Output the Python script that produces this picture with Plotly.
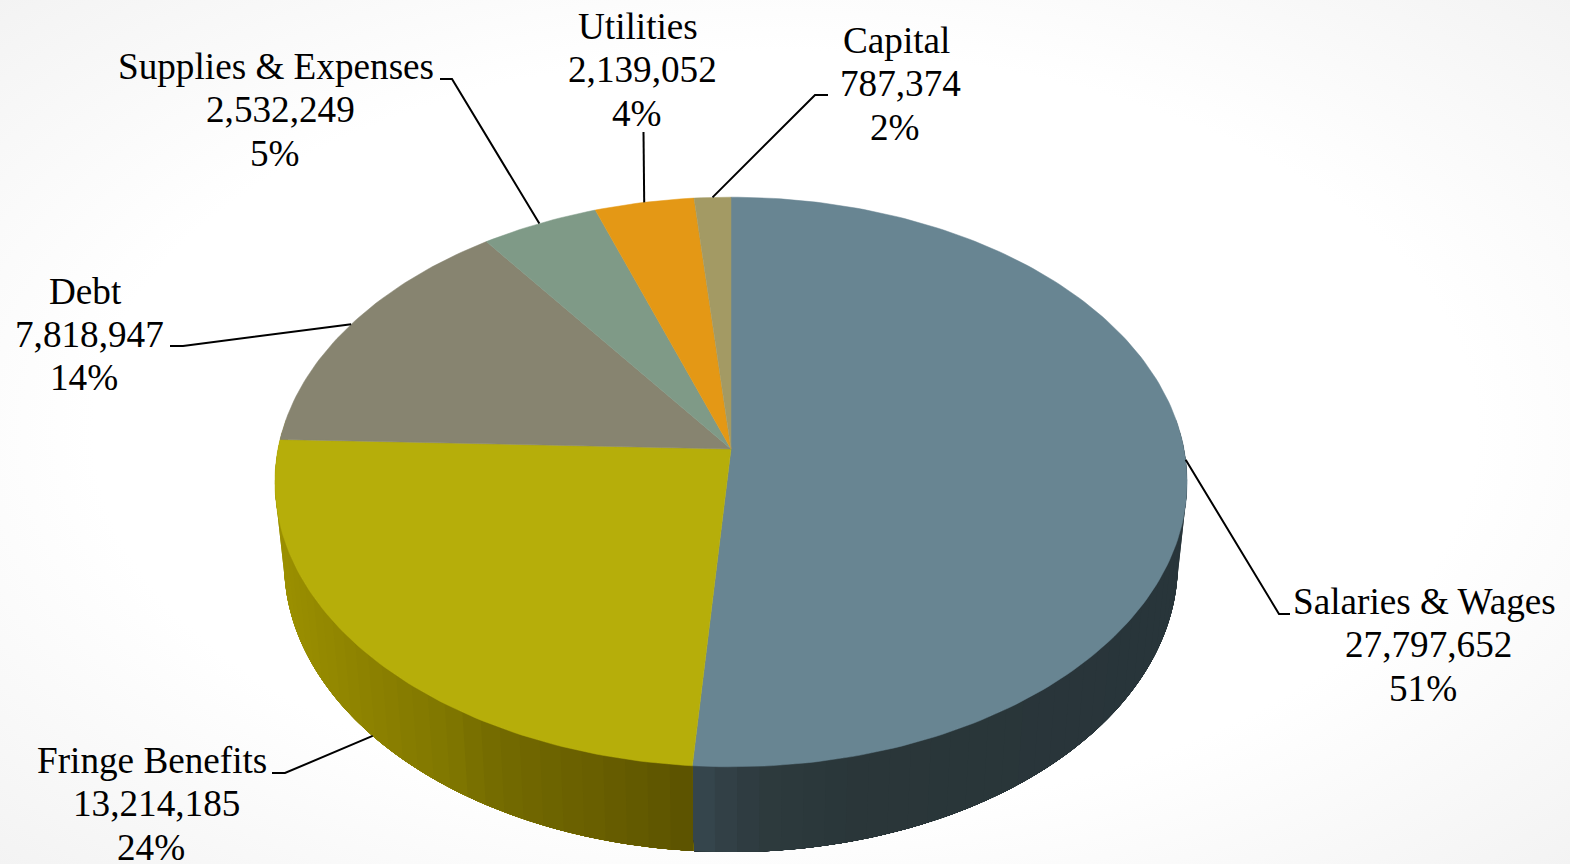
import base64
import numpy as np
import plotly.graph_objects as go

# ---- data ----
categories = ["Salaries & Wages", "Fringe Benefits", "Debt", "Supplies & Expenses", "Utilities", "Capital"]
values = [27797652, 13214185, 7818947, 2532249, 2139052, 787374]
percent_labels = ["51%", "24%", "14%", "5%", "4%", "2%"]
top_colors = ["#688592", "#b6ae0a", "#878470", "#7f9a87", "#e49815", "#a39a64"]

# ---- projection of the tilted pie onto the page (px) ----
W, H = 1570, 864
CX, CY = 731.0, 449.0
A, B, K = 453.0, 281.0, 0.1158
DEPTH, BOTTOM_SCALE = 81.0, 0.98


def project(theta, bottom=False):
    u, v = np.sin(theta), -np.cos(theta)
    d = 1 - K * v
    if bottom:
        return CX + BOTTOM_SCALE * A * u / d, CY + (BOTTOM_SCALE * B * v + DEPTH) / d
    return CX + A * u / d, CY + B * v / d


total = sum(values)
edges = 2 * np.pi * np.concatenate([[0], np.cumsum(values)]) / total
mids = (edges[:-1] + edges[1:]) / 2


def hex2rgb(h):
    return np.array([int(h[i:i + 2], 16) for i in (1, 3, 5)], float)


def ramp(x, xs, cols):
    rgb = [np.interp(x, xs, [hex2rgb(c)[i] for c in cols]) for i in range(3)]
    return "rgb(%d,%d,%d)" % tuple(int(round(c)) for c in rgb)


# rim shading by page x
rim = {
    0: ([693, 715, 760, 850, 1190], ["#36474f", "#334248", "#2d3a3e", "#2a3639", "#28353a"]),
    1: ([275, 380, 450, 500, 600, 693], ["#9c9100", "#8b8000", "#7f7600", "#736a00", "#685e00", "#5c5300"]),
}

fig = go.Figure()

# side wall: each strip runs on to the far end of its slice, and the next one paints over it,
# so no seams open up between strips
for idx, (lo, hi) in {0: (np.radians(84), edges[1]), 1: (np.radians(276), edges[1])}.items():
    n = max(int(abs(np.degrees(hi - lo)) / 2.5), 1)
    cuts = np.linspace(lo, hi, n + 1)
    for a, b in zip(cuts[:-1], cuts[1:]):
        t = np.linspace(a, hi, 60)
        xt, yt = project(t)
        xb, yb = project(t[::-1], bottom=True)
        ma = (a + b) / 2
        col = ramp((project(ma)[0] + project(ma, bottom=True)[0]) / 2, *rim[idx])
        fig.add_trace(go.Scatter(
            x=np.r_[xt, xb, xt[0]], y=np.r_[yt, yb, yt[0]], mode="lines", fill="toself",
            fillcolor=col, line=dict(color=col, width=0), hoverinfo="skip", showlegend=False))

# top face
for i, name in enumerate(categories):
    t = np.linspace(edges[i], edges[i + 1], max(int(np.degrees(edges[i + 1] - edges[i])), 4) + 1)
    x, y = project(t)
    fig.add_trace(go.Scatter(
        x=np.r_[CX, x, CX], y=np.r_[CY, y, CY], mode="lines", fill="toself",
        fillcolor=top_colors[i], line=dict(color=top_colors[i], width=0.5),
        name=name, hoverinfo="skip", showlegend=False))

# leader lines: start on the slice's mid angle, then the elbow and end next to its label
leader_elbows = {
    0: [(1279, 614), (1290, 614)],
    1: [(285, 773), (272, 773)],
    2: [(183, 346), (170, 346)],
    3: [(452, 79), (440, 79)],
    4: [(643.5, 132)],
    5: [(815, 95), (828, 95)],
}
for i, pts in leader_elbows.items():
    sx, sy = project(mids[i], bottom=(i == 1))
    fig.add_trace(go.Scatter(
        x=[float(sx)] + [p[0] for p in pts], y=[float(sy)] + [p[1] for p in pts],
        mode="lines", line=dict(color="#000000", width=2), hoverinfo="skip", showlegend=False))

# labels: block centre x, first line centre y
label_pos = [(1424, 601.5), (152, 760.5), (85, 291), (276, 66.5), (638, 26.5), (896, 40.5)]
LINE_STEP = 43.3
LINE_DX = [0, 4, -1]
annotations = []
for i, name in enumerate(categories):
    lines = [name, f"{values[i]:,}", percent_labels[i]]
    for k, txt in enumerate(lines):
        annotations.append(dict(
            x=label_pos[i][0] + LINE_DX[k], y=label_pos[i][1] + k * LINE_STEP,
            xref="x", yref="y", text=txt, showarrow=False, xanchor="center", yanchor="middle",
            font=dict(family="Liberation Serif", size=37.2, color="#000000")))

svg = (f'<svg xmlns="http://www.w3.org/2000/svg" width="{W}" height="{H}" preserveAspectRatio="none">'
       '<defs><radialGradient id="g" cx="50%" cy="50%" r="71%">'
       '<stop offset="0.62" stop-color="#ffffff"/><stop offset="1" stop-color="#f3f3f3"/>'
       '</radialGradient></defs>'
       f'<rect width="{W}" height="{H}" fill="url(#g)"/></svg>')
bg = "data:image/svg+xml;base64," + base64.b64encode(svg.encode()).decode()

fig.update_layout(
    width=W, height=H, margin=dict(l=0, r=0, t=0, b=0),
    paper_bgcolor="#ffffff", plot_bgcolor="rgba(0,0,0,0)",
    xaxis=dict(range=[0, W], visible=False, fixedrange=True),
    yaxis=dict(range=[H, 0], visible=False, fixedrange=True),
    annotations=annotations,
    images=[dict(source=bg, xref="paper", yref="paper", x=0, y=1, sizex=1, sizey=1,
                 sizing="stretch", xanchor="left", yanchor="top", layer="below")],
)

fig.write_html("out.html", config={"displayModeBar": False},
               post_script="document.body.style.margin='0';document.body.style.overflow='hidden';")
